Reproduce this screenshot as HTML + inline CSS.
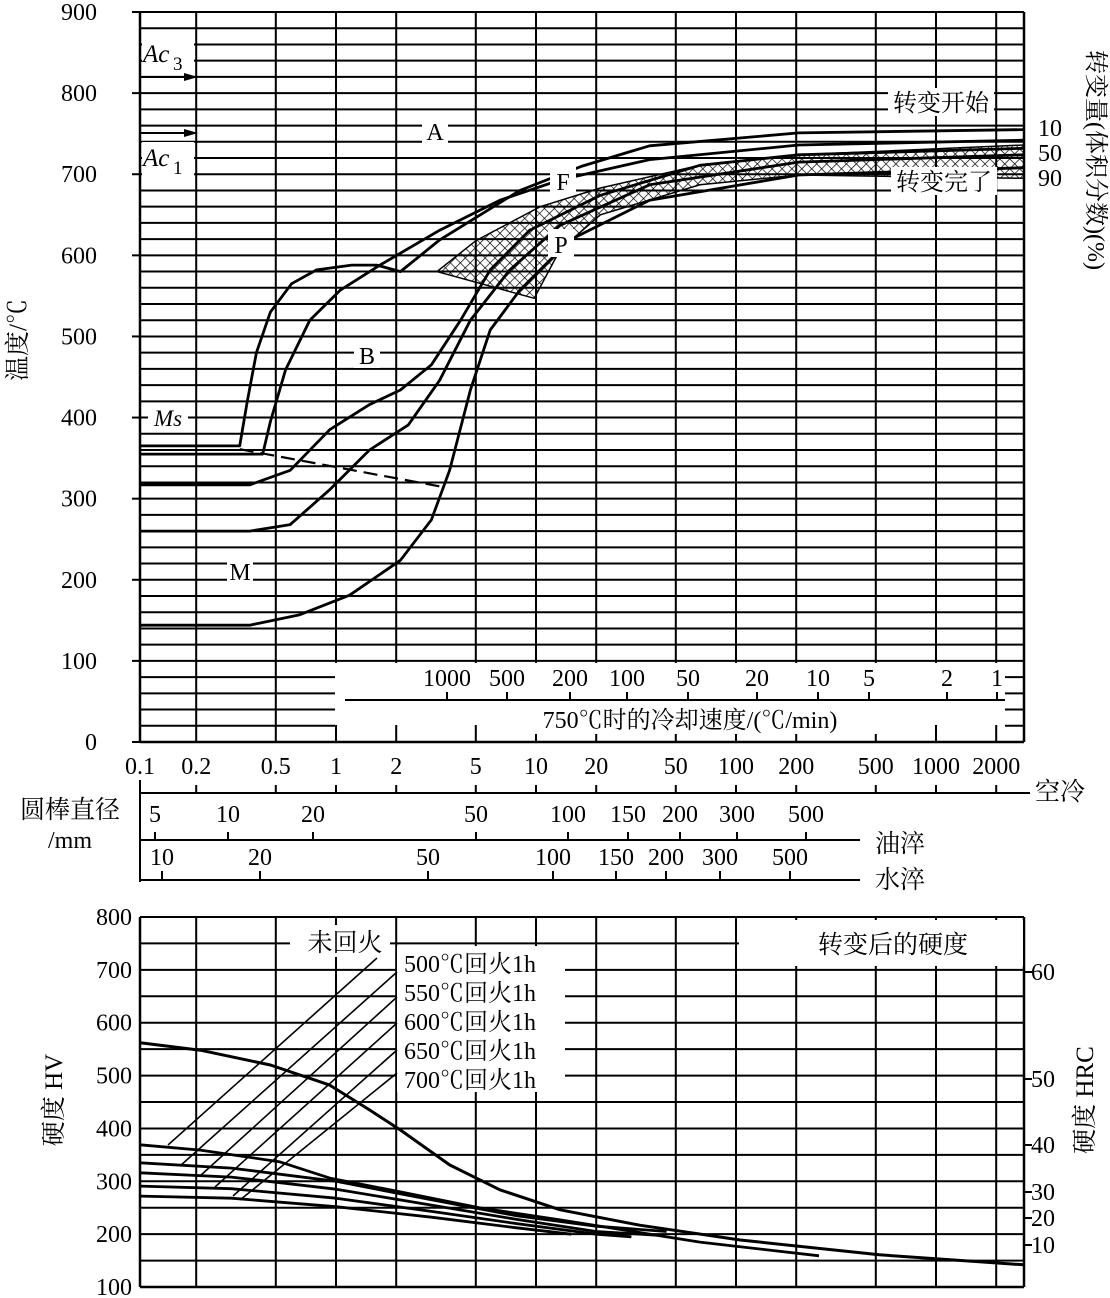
<!DOCTYPE html>
<html><head><meta charset="utf-8"><style>
html,body{margin:0;padding:0;background:#fff}
svg{display:block}
text{font-family:"Liberation Serif","Noto Serif CJK SC",serif;fill:#000}
</style></head><body>
<svg id="c" width="1110" height="1298" viewBox="0 0 1110 1298" xmlns="http://www.w3.org/2000/svg">
<defs>
<pattern id="hatch" width="7" height="7" patternUnits="userSpaceOnUse" patternTransform="rotate(45)">
<line x1="0" y1="0" x2="0" y2="7" stroke="#000" stroke-width="1.4"/><line x1="0" y1="0" x2="7" y2="0" stroke="#000" stroke-width="1.4"/>
</pattern>
</defs>
</svg>
<script>
// ---------- data ----------
const tempTicks=[0,100,200,300,400,500,600,700,800,900];
const timeTicks=[0.1,0.2,0.5,1,2,5,10,20,50,100,200,500,1000,2000];
const timeTickLabels=["0.1","0.2","0.5","1","2","5","10","20","50","100","200","500","1000","2000"];
const curveA=[[0.105,365],[0.33,365],[0.36,420],[0.4,480],[0.47,530],[0.6,565],[0.8,582],[1.2,588],[1.6,588],[2.1,580],[3.3,619],[8.3,680],[17,710],[37,735],[206,751],[2750,755]];
const curveB=[[0.105,355],[0.43,355],[0.47,395],[0.56,459],[0.74,520],[1.05,557],[1.66,588],[3.3,631],[6.6,668],[13.2,693],[37,718],[206,736],[2750,742]];
const curveC=[[0.105,317],[0.37,317],[0.59,335],[0.93,385],[1.47,416],[2.1,434],[3.0,465],[4.2,520],[5.9,582],[9.3,631],[21,674],[66,711],[206,724],[2750,732]];
const curveD=[[0.105,260],[0.37,260],[0.59,268],[0.93,311],[1.47,360],[2.3,391],[3.3,446],[4.7,520],[7.4,582],[13.2,637],[37,687],[206,715],[2750,724]];
const curveE=[[0.105,144],[0.37,144],[0.66,157],[1.17,181],[2.1,224],[3.0,274],[3.7,335],[4.7,434],[5.9,508],[8.3,557],[14.8,619],[37,668],[206,699],[2750,708]];
const msDashed=[[0.33,361],[3.5,314]];
const hatchUpper=[[3.2,580],[5,618],[10.5,660],[21,683],[66,711],[206,724],[2750,736]];
const hatchLower=[[2750,695],[206,699],[66,687],[21,650],[13.2,607],[9.8,547],[3.2,580]];
const hvTicks=[100,200,300,400,500,600,700,800];
const hrcTicks=[[60,972],[50,1079],[40,1145],[30,1192],[20,1218],[10,1245]];
const untempered=[[0.105,562],[0.21,548],[0.47,520],[0.93,482],[1.47,435],[2.1,397],[3.7,331],[6.6,284],[13.2,246],[33,217],[105,189],[520,161],[2750,142]];
const t500=[[0.105,369],[0.21,359],[0.52,337],[0.93,306],[2.1,280],[5.2,250],[13.2,227],[66,185],[260,159]];
const t550=[[0.105,335],[0.3,325],[1,300],[3,265],[8,235],[20,215],[45,205]];
const t600=[[0.105,316],[0.3,308],[1,285],[3,255],[8,228],[20,205],[40,198]];
const t650=[[0.105,291],[0.3,286],[1,268],[3,243],[8,220],[20,200],[30,195]];
const t700=[[0.105,272],[0.3,268],[1,252],[3,232],[8,212],[15,200]];
const rateVals=[1000,500,200,100,50,20,10,5,2,1];
const ratePos=[447,507,570,627,688,757,818,869,947,997];
const airVals=["5","10","20","50","100","150","200","300","500"];
const airPos=[155,228,313,476,568,628,680,737,806];
const waterVals=["10","20","50","100","150","200","300","500"];
const waterPos=[162,260,428,553,616,666,720,790];

// ---------- scales ----------
const X=t=>136+200*(Math.log10(t)+1);
const Y=T=>742-0.8111*T;
const HY=hv=>917+(800-hv)*0.5286;
const svg=document.getElementById('c');
const NS='http://www.w3.org/2000/svg';
function mk(tag,attrs,parent){const e=document.createElementNS(NS,tag);for(const k in attrs)e.setAttribute(k,attrs[k]);(parent||svg).appendChild(e);return e;}
function line(x1,y1,x2,y2,w,name,dash){const e=mk('line',{x1,y1,x2,y2,stroke:'#000','stroke-width':w||2});if(dash)e.setAttribute('stroke-dasharray',dash);

return e;}
function txt(x,y,s,size,name,anchor,extra){const e=mk('text',Object.assign({x,y,'font-size':size||24,'text-anchor':anchor||'middle'},extra||{}));e.textContent=s;

return e;}
function pathOf(pts,fx,fy){return pts.map((p,i)=>(i?'L':'M')+fx(p[0]).toFixed(1)+' '+fy(p[1]).toFixed(1)).join(' ');}
function curve(pts,fx,fy,name,w,dash){const e=mk('path',{d:pathOf(pts,fx,fy),fill:'none',stroke:'#000','stroke-width':w||2.8,'stroke-linejoin':'round'});if(dash)e.setAttribute('stroke-dasharray',dash);

return e;}
function wbox(x,y,w,h,name){const e=mk('rect',{x,y,width:w,height:h,fill:'#fff'});

return e;}

// ---------- top chart grid ----------
for(let T=0;T<=900;T+=20){line(140,Y(T),1024,Y(T),2,'temp-grid-line');}
timeTicks.slice(1).forEach(t=>line(X(t),12,X(t),742,2,'time-grid-line'));
line(140,12,140,742,2.5,'temp-axis');line(1024,12,1024,742,2.5,'right-border');
// cooling rate box
wbox(335,663,670,78,'cooling-rate-box');
timeTicks.slice(1).forEach(t=>{if(X(t)>335&&X(t)<1005)line(X(t),725,X(t),742,2,'time-grid-stub');});
line(345,700,1005,700,2,'cooling-rate-axis');
rateVals.forEach((v,i)=>{line(ratePos[i],692,ratePos[i],700,2,'cooling-rate-tick');txt(ratePos[i],686,String(v),24,'cooling-rate-tick-label');});
wbox(490,706,388,28,'cooling-rate-title-bg');
txt(690,728,'750℃时的冷却速度/(℃/min)',24,'cooling-rate-title');
line(140,742,1024,742,2.5,'time-axis');
tempTicks.forEach(T=>{line(132,Y(T),140,Y(T),2,'temp-tick');txt(97,Y(T)+8,String(T),24,'temp-tick-label','end');});
timeTicks.forEach((t,i)=>txt(X(t)<140?140:X(t),774,timeTickLabels[i],24,'time-tick-label'));
txt(26,340,'温度/℃',25,'y-axis-title','middle',{transform:'rotate(-90 26 340)'});

// hatch region
const hp=mk('path',{d:pathOf(hatchUpper,X,Y)+' '+pathOf(hatchLower,X,Y).replace('M','L')+' Z',fill:'url(#hatch)',stroke:'#000','stroke-width':1.5});



curve(curveA,X,Y,'curve-transform-start');
curve(curveB,X,Y,'curve-10pct');
curve(curveC,X,Y,'curve-50pct');
curve(curveD,X,Y,'curve-90pct');
curve(curveE,X,Y,'curve-transform-end');
curve(msDashed,X,Y,'ms-dashed-line',2.2,'14 7');

// labels in top chart
[['A',435,131],['F',563,181],['P',561,244],['B',367,355],['M',240,571]].forEach(a=>{wbox(a[1]-13,a[2]-15,26,28,'phase-label-bg');txt(a[1],a[2]+9,a[0],24,'phase-label-'+a[0]);});
wbox(148,404,40,26,'ms-bg');txt(168,426,'Ms',23,'ms-label','middle',{'font-style':'italic'});
wbox(142,38,52,36,'ac3-bg');txt(143,62,'Ac',25,'ac3-label','start',{'font-style':'italic'});txt(173,70,'3',19,'ac3-sub','start');
line(140,77,190,77,2,'ac3-arrow');mk('path',{d:'M184 73 L198 77 L184 81 Z',fill:'#000'});
line(140,133,190,133,2,'ac1-arrow');mk('path',{d:'M184 129 L198 133 L184 137 Z',fill:'#000'});
wbox(142,142,52,34,'ac1-bg');txt(143,166,'Ac',25,'ac1-label','start',{'font-style':'italic'});txt(173,174,'1',19,'ac1-sub','start');
wbox(888,88,106,28,'start-label-bg');txt(941,111,'转变开始',24,'transform-start-label');
wbox(891,167,106,28,'end-label-bg');txt(944,190,'转变完了',24,'transform-end-label');
txt(1050,136,'10',24,'pct-10-label');txt(1050,161,'50',24,'pct-50-label');txt(1050,186,'90',24,'pct-90-label');
txt(1095,160,'转变量(体积分数)(%)',24,'right-axis-title','middle',{transform:'rotate(90 1095 160)','dominant-baseline':'central'});

// ---------- diameter axes ----------
line(140,780,140,882,2,'diameter-axis');
line(140,793,1030,793,2,'air-cool-axis');
timeTicks.forEach(t=>line(Math.max(140,X(t)),785,Math.max(140,X(t)),793,2,'air-tick'));
txt(1060,800,'空冷',25,'air-cool-label');
txt(70,818,'圆棒直径',25,'diameter-title');txt(70,848,'/mm',24,'diameter-unit');
line(140,840,860,840,2,'oil-quench-axis');
airVals.forEach((v,i)=>{line(airPos[i],832,airPos[i],840,2,'oil-tick');txt(airPos[i],822,v,24,'oil-tick-label');});
txt(900,852,'油淬',25,'oil-quench-label');
line(140,880,860,880,2,'water-quench-axis');
waterVals.forEach((v,i)=>{line(waterPos[i],871,waterPos[i],880,2,'water-tick');txt(waterPos[i],865,v,24,'water-tick-label');});
txt(900,888,'水淬',25,'water-quench-label');

// ---------- hardness chart ----------
for(let hv=100;hv<=800;hv+=50){line(140,HY(hv),1024,HY(hv),2,'hv-grid-line');}
timeTicks.slice(1).forEach(t=>line(X(t),917,X(t),1287,2,'hv-time-grid'));
line(140,917,140,1287,2.5,'hv-axis');line(1024,917,1024,1287,2.5,'hrc-axis');
line(140,1287,1024,1287,2.5,'hv-bottom');
hvTicks.forEach(h=>txt(132,HY(h)+8,String(h),24,'hv-tick-label','end'));
hrcTicks.forEach(r=>{line(1024,r[1],1032,r[1],2,'hrc-tick');txt(1043,r[1]+8,String(r[0]),24,'hrc-tick-label','middle');});
txt(62,1100,'硬度   HV',25,'hv-axis-title','middle',{transform:'rotate(-90 62 1100)'});
txt(1093,1100,'硬度   HRC',25,'hrc-axis-title','middle',{transform:'rotate(-90 1093 1100)'});
wbox(397,946,168,146,'legend-bg');
wbox(739,920,284,46,'hardness-title-bg');
txt(893,953,'转变后的硬度',25,'hardness-title');
wbox(290,925,100,32,'untempered-label-bg');txt(345,951,'未回火',25,'untempered-label');
const legendNames=['500℃回火1h','550℃回火1h','600℃回火1h','650℃回火1h','700℃回火1h'];
legendNames.forEach((s,i)=>txt(404,972+i*29,s,24,'legend-entry','start'));
// leader lines (annotation)
[[377,958,168,1145],[397,972,180,1166],[397,997,200,1176],[397,1023,215,1187],[397,1050,233,1196],[397,1073,240,1200]].forEach(l=>line(l[0],l[1],l[2],l[3],1.6,'leader-line'));
curve(untempered,X,HY,'hardness-untempered',3);
curve(t500,X,HY,'hardness-500');
curve(t550,X,HY,'hardness-550');
curve(t600,X,HY,'hardness-600');
curve(t650,X,HY,'hardness-650');
curve(t700,X,HY,'hardness-700');
</script>
</body></html>
